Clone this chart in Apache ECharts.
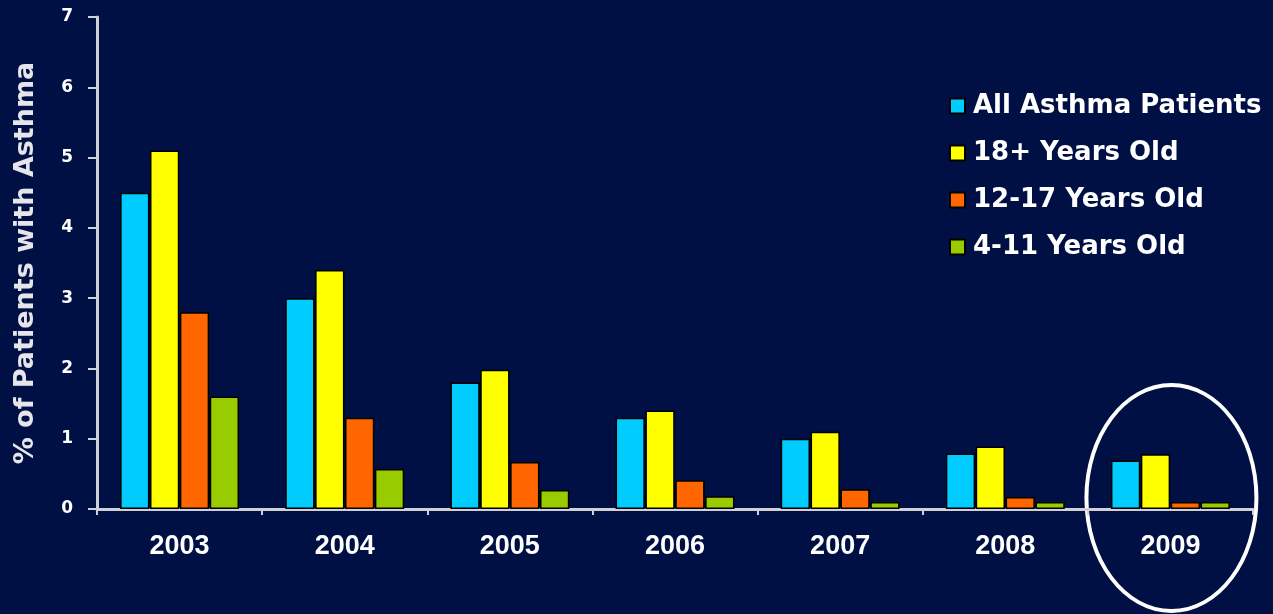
<!DOCTYPE html>
<html><head><meta charset="utf-8">
<script src="https://cdn.jsdelivr.net/npm/echarts@6/dist/echarts.min.js"></script>
<style>html,body{margin:0;padding:0;background:#001045;}#c{width:1273px;height:614px;}</style>
</head><body><div id="c"></div>
<script>
const categories = ['2003','2004','2005','2006','2007','2008','2009'];
const allPatients = [4.5, 3.0, 1.8, 1.3, 1.0, 0.79, 0.69];
const adults18 = [5.1, 3.4, 1.98, 1.4, 1.1, 0.89, 0.78];
const teens12to17 = [2.8, 1.3, 0.67, 0.41, 0.28, 0.17, 0.1];
const kids4to11 = [1.6, 0.57, 0.27, 0.18, 0.1, 0.1, 0.1];
const seriesNames = ['All Asthma Patients','18+ Years Old','12-17 Years Old','4-11 Years Old'];
const colors = ['#00ccff','#ffff00','#ff6600','#99cc00'];
const yTicks = [0,1,2,3,4,5,6,7];

const chart = echarts.init(document.getElementById('c'));
const wide = '"DejaVu Sans", Verdana, sans-serif';
const arial = '"Liberation Sans", Arial, sans-serif';
const dataSets = [allPatients, adults18, teens12to17, kids4to11];
chart.setOption({
  backgroundColor: '#001045',
  animation: false,
  grid: {left: 97, right: 20, top: 17, bottom: 105},
  legend: {
    orient: 'vertical', left: 944, top: 88,
    itemWidth: 15, itemHeight: 15, itemGap: 21,
    icon: 'rect',
    textStyle: {color: '#ffffff', fontSize: 26, fontWeight: 'bold', fontFamily: wide, padding: [0,0,0,3]},
    data: seriesNames
  },
  xAxis: {
    type: 'category', data: categories,
    axisLine: {lineStyle: {color: '#d0d0d8', width: 3}},
    axisTick: {show: true, length: 6, lineStyle: {color: '#d0d0d8', width: 2}},
    axisLabel: {color: '#ffffff', fontSize: 27, fontWeight: 'bold', fontFamily: arial, margin: 24}
  },
  yAxis: {
    type: 'value', min: yTicks[0], max: yTicks[yTicks.length-1], interval: 1,
    name: '% of Patients with Asthma', nameLocation: 'middle', nameGap: 58,
    nameTextStyle: {color: '#e6e6ea', fontSize: 27, fontWeight: 'bold', fontFamily: wide},
    axisLine: {show: true, lineStyle: {color: '#d0d0d8', width: 3}},
    axisTick: {show: true, length: 9, lineStyle: {color: '#d0d0d8', width: 2}},
    splitLine: {show: false},
    axisLabel: {color: '#ffffff', fontSize: 17, fontWeight: 'bold', fontFamily: wide, margin: 24}
  },
  series: seriesNames.map((n, i) => ({
    name: n, type: 'bar', data: dataSets[i],
    barGap: '2%', barCategoryGap: '28%',
    itemStyle: {color: colors[i], borderColor: '#000000', borderWidth: 1.5}
  }))
});
const p = chart.convertToPixel({xAxisIndex: 0, yAxisIndex: 0}, ['2009', 0]);
chart.setOption({
  graphic: [{
    type: 'ellipse', silent: true,
    shape: {cx: p[0] + 1, cy: 498, rx: 85, ry: 113},
    style: {fill: 'none', stroke: '#ffffff', lineWidth: 4}
  }]
});
</script></body></html>
